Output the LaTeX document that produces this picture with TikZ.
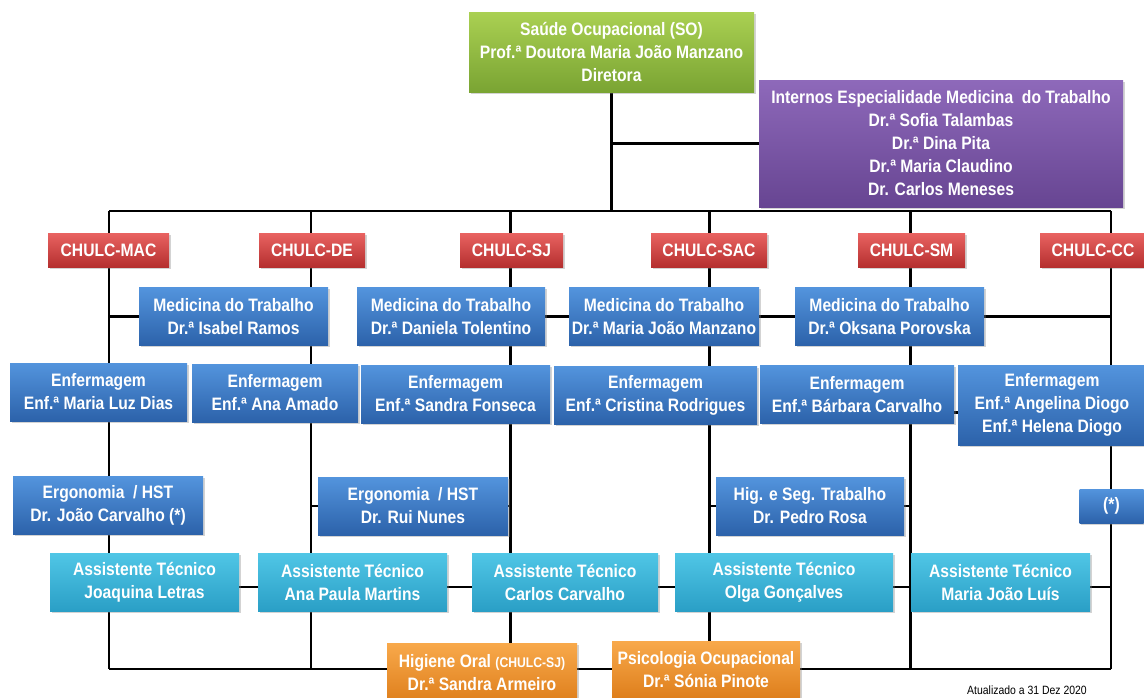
\documentclass[tikz,border=0pt]{standalone}
\usepackage{fontspec}
\setmainfont{Liberation Sans}[FakeStretch=0.87]
\usepackage{tikz}
\usetikzlibrary{calc,shadows,positioning}
\pgfdeclarelayer{background}
\pgfsetlayers{background,main}

\definecolor{soTop}{HTML}{AAD052}
\definecolor{soBot}{HTML}{7AA433}
\definecolor{intTop}{HTML}{8E69BA}
\definecolor{intBot}{HTML}{674592}
\definecolor{hospTop}{HTML}{E96361}
\definecolor{hospBot}{HTML}{B52F2F}
\definecolor{medTop}{HTML}{5394DD}
\definecolor{medBot}{HTML}{2C62AA}
\definecolor{astTop}{HTML}{50C6E6}
\definecolor{astBot}{HTML}{2A9FC6}
\definecolor{extTop}{HTML}{F8A94B}
\definecolor{extBot}{HTML}{DE7E1B}

\begin{document}
\begin{tikzpicture}[x=1pt,y=-1pt,
  orgbox/.style={rectangle, inner sep=0pt, align=center, text=white,
    font=\fontsize{18}{23}\selectfont\bfseries,
    drop shadow={shadow xshift=1.5pt,shadow yshift=-1.5pt,opacity=0.35}},
  sobox/.style={orgbox, top color=soTop, bottom color=soBot},
  intbox/.style={orgbox, top color=intTop, bottom color=intBot},
  hospbox/.style={orgbox, top color=hospTop, bottom color=hospBot, minimum height=34pt},
  medbox/.style={orgbox, top color=medTop, bottom color=medBot, minimum height=58pt},
  astbox/.style={orgbox, top color=astTop, bottom color=astBot, minimum height=58pt, minimum width=189pt},
  extbox/.style={orgbox, top color=extTop, bottom color=extBot, minimum height=58pt},
  link/.style={line width=2.3pt, black}]
  \useasboundingbox (0,0) rectangle (1144,697);

  \node[sobox, minimum width=285pt, minimum height=80pt] (so) at (611.5,52)
    {Saúde Ocupacional (SO)\\Prof.ª Doutora Maria João Manzano\\Diretora};
  \node[intbox, minimum width=364pt, minimum height=127pt] (int) at (941,143.5)
    {Internos Especialidade Medicina\ \ do Trabalho\\Dr.ª Sofia Talambas\\Dr.ª Dina Pita\\Dr.ª Maria Claudino\\Dr. Carlos Meneses};

  \coordinate (c1) at (109,211);
  \coordinate (c2) at (311,211);
  \coordinate (c3) at (510.5,211);
  \coordinate (c4) at (709.5,211);
  \coordinate (c5) at (910.5,211);
  \coordinate (c6) at (1111,211);
  \coordinate (b1) at (109,669);
  \coordinate (b2) at (311,669);
  \coordinate (b5) at (910.5,669);
  \coordinate (b6) at (1111,669);

  \node[hospbox, minimum width=121pt] (mac) at (108.5,250) {CHULC-MAC};
  \node[hospbox, minimum width=106pt] (de) at (312,250) {CHULC-DE};
  \node[hospbox, minimum width=103pt] (sj) at (511.5,250) {CHULC-SJ};
  \node[hospbox, minimum width=116pt] (sac) at (709,250) {CHULC-SAC};
  \node[hospbox, minimum width=107pt] (sm) at (911.5,250) {CHULC-SM};
  \node[hospbox, minimum width=106pt] (cc) at (1093,250) {CHULC-CC};

  \node[medbox, minimum width=189pt] (isa) at (233.5,316.5) {Medicina do Trabalho\\Dr.ª Isabel Ramos};
  \node[medbox, minimum width=188pt] (dan) at (451,316.5) {Medicina do Trabalho\\Dr.ª Daniela Tolentino};
  \node[medbox, minimum width=190pt] (mjm) at (664,316.5) {Medicina do Trabalho\\Dr.ª Maria João Manzano};
  \node[medbox, minimum width=189pt] (oks) at (889.5,316.5) {Medicina do Trabalho\\Dr.ª Oksana Porovska};

  \node[medbox, minimum width=177pt] (mld) at (98.5,392) {Enfermagem\\Enf.ª Maria Luz Dias};
  \node[medbox, minimum width=166pt] (ana) at (275,393) {Enfermagem\\Enf.ª Ana Amado};
  \node[medbox, minimum width=189pt] (sfo) at (455.5,394) {Enfermagem\\Enf.ª Sandra Fonseca};
  \node[medbox, minimum width=203pt] (cro) at (655.5,395) {Enfermagem\\Enf.ª Cristina Rodrigues};
  \node[medbox, minimum width=194pt] (bca) at (857,394.5) {Enfermagem\\Enf.ª Bárbara Carvalho};
  \node[medbox, minimum width=188pt, minimum height=80pt] (ang) at (1052,405) {Enfermagem\\Enf.ª Angelina Diogo\\Enf.ª Helena Diogo};

  \node[medbox, minimum width=190pt] (erj) at (108,505.5) {Ergonomia\ \ / HST\\Dr. João Carvalho (*)};
  \node[medbox, minimum width=190pt] (rui) at (413,506) {Ergonomia\ \ / HST\\Dr. Rui Nunes};
  \node[medbox, minimum width=188pt] (ped) at (810,506) {Hig. e Seg. Trabalho\\Dr. Pedro Rosa};
  \node[medbox, minimum width=64pt, minimum height=34pt] (nd) at (1111.5,506) {(*)};

  \node[astbox] (joa) at (144.5,582) {Assistente Técnico\\Joaquina Letras};
  \node[astbox] (apm) at (352.5,582) {Assistente Técnico\\Ana Paula Martins};
  \node[astbox, minimum width=186pt] (cca) at (565,582) {Assistente Técnico\\Carlos Carvalho};
  \node[astbox, minimum width=218pt] (olg) at (784,582) {Assistente Técnico\\Olga Gonçalves};
  \node[astbox, minimum width=179pt] (mjl) at (1000.5,582) {Assistente Técnico\\Maria João Luís};

  \node[extbox, minimum width=190pt, minimum height=60pt] (hig) at (482,673)
    {Higiene Oral {\fontsize{14}{23}\selectfont(CHULC-SJ)}\\Dr.ª Sandra Armeiro};
  \node[extbox, minimum width=188pt] (psi) at (706,670) {Psicologia Ocupacional\\Dr.ª Sónia Pinote};

  \node[font=\fontsize{12}{14}\selectfont, inner sep=0pt] (upd) at (1027,690) {Atualizado a 31 Dez 2020};

  \begin{pgfonlayer}{background}
    \draw[link] (so.south) -- (so.south |- c1);
    \draw[link] (so.south |- int.west) -- (int.west);
    \draw[link] (c1) -- (c6);
    \draw[link] (c1) -- (b1);
    \draw[link] (c2) -- (b2);
    \draw[link] (c3) -- (c3 |- hig.north);
    \draw[link] (c4) -- (c4 |- psi.north);
    \draw[link] (c5) -- (b5);
    \draw[link] (c6) -- (b6);
    \draw[link] (b1) -- (b6);
    \draw[link] (c1 |- isa.west) -- (isa.west);
    \draw[link] (dan.east) -- (mjm.west);
    \draw[link] (mjm.east) -- (oks.west);
    \draw[link] (oks.east) -- (c6 |- oks.east);
    \draw[link] ([yshift=-18pt]bca.east) -- ([yshift=-18pt]bca.east -| ang.west);
    \draw[link] (c2 |- rui.west) -- (c3 |- rui.east);
    \draw[link] (c4 |- ped.west) -- (c5 |- ped.east);
    \draw[link] ([yshift=-5pt]joa.east) -- ([yshift=-5pt]joa.east -| c6);
  \end{pgfonlayer}
\end{tikzpicture}
\end{document}
